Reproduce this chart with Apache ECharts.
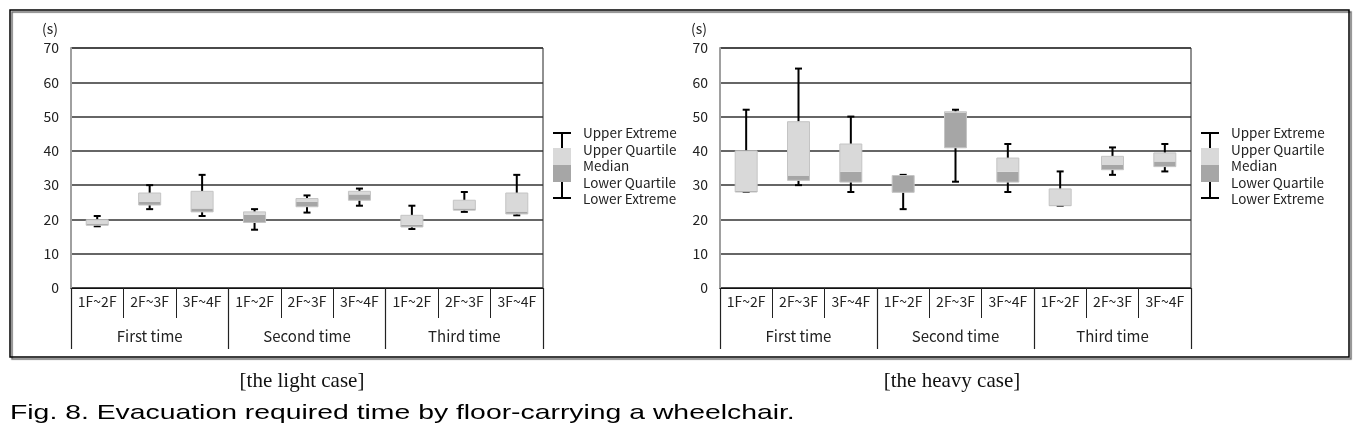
<!DOCTYPE html>
<html>
<head>
<meta charset="utf-8">
<script src="https://cdn.jsdelivr.net/npm/echarts@6/dist/echarts.min.js"></script>
<style>html,body{margin:0;padding:0;background:#fff;}#c{width:1369px;height:433px;}</style>
</head>
<body>
<div id="c"></div>
<script>
var floors = ['1F~2F','2F~3F','3F~4F','1F~2F','2F~3F','3F~4F','1F~2F','2F~3F','3F~4F'];
var groups = ['First time','Second time','Third time'];
var yTicks = [0,10,20,30,40,50,60,70];

// light case
var lightMin = [18, 23, 21, 17, 22, 24, 17.2, 22.2, 21.2];
var lightQ1  = [18.3, 24.2, 22.2, 19.1, 23.7, 25.6, 17.8, 22.7, 21.6];
var lightMed = [18.8, 25.2, 23.2, 21.4, 25.2, 27.3, 18.4, 23.2, 22.3];
var lightQ3  = [19.9, 27.7, 28.2, 22.2, 26.1, 28.2, 21.2, 25.6, 27.7];
var lightMax = [21, 30, 33, 23, 27, 29, 24, 28, 33];

// heavy case
var heavyMin = [28, 30, 28, 23, 31, 28, 24, 33, 34];
var heavyQ1  = [28, 31.4, 30.9, 27.9, 40.9, 30.9, 24, 34.5, 35.4];
var heavyMed = [28.3, 32.8, 33.9, 32.7, 51.2, 33.9, 24.2, 36, 36.9];
var heavyQ3  = [40, 48.5, 42, 32.8, 51.4, 37.9, 28.9, 38.4, 39.4];
var heavyMax = [52, 64, 50, 33, 52, 42, 34, 41, 42];

var legendLabels = ['Upper Extreme','Upper Quartile','Median','Lower Quartile','Lower Extreme'];
var captions = ['[the light case]', '[the heavy case]'];
var figTitle = 'Fig. 8. Evacuation required time by floor-carrying a wheelchair.';

var LIGHT = '#d9d9d9', DARK = '#a6a6a6', EDGE = '#c4c4c4';

function rows(mn, q1, md, q3, mx) {
  return mn.map(function (v, i) { return [i, mn[i], q1[i], md[i], q3[i], mx[i]]; });
}

function renderBox(params, api) {
  var i = api.value(0);
  var pMin = api.coord([i, api.value(1)]);
  var pQ1 = api.coord([i, api.value(2)]);
  var pMed = api.coord([i, api.value(3)]);
  var pQ3 = api.coord([i, api.value(4)]);
  var pMax = api.coord([i, api.value(5)]);
  var bw = api.size([1, 0])[0] * 0.42;
  var cx = pMin[0];
  var cap = 7;
  var ls = {stroke: '#000', lineWidth: 2};
  return {
    type: 'group',
    children: [
      {type: 'line', shape: {x1: cx, y1: pMax[1], x2: cx, y2: pQ3[1]}, style: ls},
      {type: 'line', shape: {x1: cx - cap / 2, y1: pMax[1], x2: cx + cap / 2, y2: pMax[1]}, style: ls},
      {type: 'line', shape: {x1: cx, y1: pQ1[1], x2: cx, y2: pMin[1]}, style: ls},
      {type: 'line', shape: {x1: cx - cap / 2, y1: pMin[1], x2: cx + cap / 2, y2: pMin[1]}, style: ls},
      {type: 'rect', shape: {x: cx - bw / 2, y: pMed[1], width: bw, height: pQ1[1] - pMed[1]}, style: {fill: DARK, stroke: null}},
      {type: 'rect', shape: {x: cx - bw / 2, y: pQ3[1], width: bw, height: pMed[1] - pQ3[1]}, style: {fill: LIGHT, stroke: null}},
      {type: 'rect', shape: {x: cx - bw / 2, y: pQ3[1], width: bw, height: pQ1[1] - pQ3[1]}, style: {fill: null, stroke: EDGE, lineWidth: 1}}
    ]
  };
}

var FONT = '"Noto Sans CJK KR", "Noto Sans", sans-serif';

function makeAxes(gi) {
  return {
    x: [
      {
        type: 'category', gridIndex: gi, data: floors, position: 'bottom',
        axisLine: {show: true, lineStyle: {color: '#111', width: 1}},
        axisTick: {show: true, alignWithLabel: false, interval: 0, length: 30, lineStyle: {color: '#222', width: 1}},
        axisLabel: {interval: 0, margin: 7, fontSize: 14, color: '#222', fontFamily: FONT},
        splitLine: {show: false}
      },
      {
        type: 'category', gridIndex: gi, data: groups, position: 'bottom', offset: 0,
        axisLine: {show: false},
        axisTick: {show: true, interval: 0, length: 61, lineStyle: {color: '#222', width: 1.2}},
        axisLabel: {interval: 0, margin: 41, fontSize: 15, color: '#222', fontFamily: FONT},
        splitLine: {show: false}
      }
    ],
    y: {
      type: 'value', gridIndex: gi, min: yTicks[0], max: yTicks[yTicks.length - 1], interval: 10,
      name: '(s)', nameLocation: 'end', nameGap: 12,
      nameTextStyle: {fontSize: 14, color: '#222', fontFamily: FONT, align: 'right', padding: [0, 13, 0, 0]},
      axisLine: {show: true, lineStyle: {color: '#a0a0a0', width: 2}},
      axisTick: {show: false},
      axisLabel: {margin: 12, fontSize: 14, color: '#222', fontFamily: FONT},
      splitLine: {show: true, lineStyle: {color: '#333', width: 1.5}}
    }
  };
}

var a0 = makeAxes(0), a1 = makeAxes(1);

function legendGraphic(sx, tx) {
  var els = [];
  var ys = [133, 150, 166, 183, 199];
  var ls = {stroke: '#000', lineWidth: 2};
  els.push({type: 'line', shape: {x1: sx - 9, y1: 133, x2: sx + 9, y2: 133}, style: ls});
  els.push({type: 'line', shape: {x1: sx, y1: 133, x2: sx, y2: 148}, style: ls});
  els.push({type: 'line', shape: {x1: sx, y1: 182, x2: sx, y2: 198}, style: ls});
  els.push({type: 'line', shape: {x1: sx - 9, y1: 198, x2: sx + 9, y2: 198}, style: ls});
  els.push({type: 'rect', shape: {x: sx - 9, y: 148, width: 18, height: 17}, style: {fill: LIGHT}});
  els.push({type: 'rect', shape: {x: sx - 9, y: 165, width: 18, height: 17}, style: {fill: DARK}});
  legendLabels.forEach(function (t, k) {
    els.push({type: 'text', x: tx, y: ys[k], style: {text: t, fontSize: 13.5, fill: '#222', fontFamily: FONT, verticalAlign: 'middle'}});
  });
  return els;
}

var graphics = [
  {type: 'rect', shape: {x: 10, y: 10, width: 1339, height: 347}, style: {fill: null, stroke: '#000', lineWidth: 1.5, shadowColor: 'rgba(0,0,0,0.6)', shadowOffsetX: 2, shadowOffsetY: 2, shadowBlur: 1}, z: -1},
  {type: 'text', x: 302, y: 381, style: {text: captions[0], fontSize: 21, fill: '#111', fontFamily: '"Liberation Serif", "DejaVu Serif", serif', align: 'center', verticalAlign: 'middle'}},
  {type: 'text', x: 952, y: 381, style: {text: captions[1], fontSize: 21, fill: '#111', fontFamily: '"Liberation Serif", "DejaVu Serif", serif', align: 'center', verticalAlign: 'middle'}},
  {type: 'text', x: 10, y: 413, scaleX: 1.35, style: {text: figTitle, fontSize: 21, fill: '#000', fontFamily: '"Liberation Sans", Arial, sans-serif', align: 'left', verticalAlign: 'middle'}}
].concat(legendGraphic(562, 583)).concat(legendGraphic(1210, 1231));

var option = {
  animation: false,
  backgroundColor: '#fff',
  grid: [
    {left: 71, top: 48, width: 472, height: 240, show: true, borderColor: '#222', borderWidth: 1, backgroundColor: 'transparent'},
    {left: 720, top: 48, width: 471, height: 240, show: true, borderColor: '#222', borderWidth: 1, backgroundColor: 'transparent'}
  ],
  xAxis: a0.x.concat(a1.x),
  yAxis: [a0.y, a1.y],
  series: [
    {type: 'custom', xAxisIndex: 0, yAxisIndex: 0, renderItem: renderBox, encode: {x: 0, y: [1, 2, 3, 4, 5]},
     data: rows(lightMin, lightQ1, lightMed, lightQ3, lightMax), z: 5},
    {type: 'custom', xAxisIndex: 2, yAxisIndex: 1, renderItem: renderBox, encode: {x: 0, y: [1, 2, 3, 4, 5]},
     data: rows(heavyMin, heavyQ1, heavyMed, heavyQ3, heavyMax), z: 5}
  ],
  graphic: graphics
};

var chart = echarts.init(document.getElementById('c'), null, {renderer: 'canvas'});
chart.setOption(option);
</script>
</body>
</html>
